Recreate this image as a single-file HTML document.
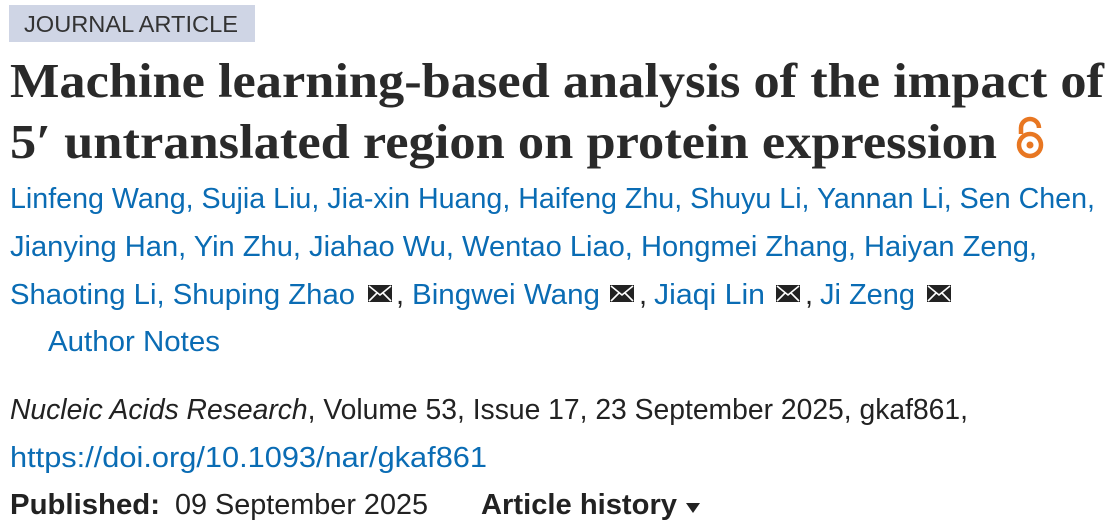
<!DOCTYPE html>
<html><head><meta charset="utf-8"><style>
html,body{margin:0;padding:0;background:#fff;width:1116px;height:520px;overflow:hidden}
svg text{font-family:"Liberation Sans",sans-serif}
.b{fill:#0a6cb4}.d{fill:#222}
</style></head><body>
<svg width="1116" height="520" viewBox="0 0 1116 520" xmlns="http://www.w3.org/2000/svg">
<rect x="9" y="5" width="246" height="37" fill="#cfd5e5"/>
<text x="24" y="32" font-size="23" fill="#333" textLength="214" lengthAdjust="spacingAndGlyphs">JOURNAL ARTICLE</text>
<g font-weight="bold" fill="#2a2a2a">
<text x="10" y="97" font-size="49" textLength="1094" lengthAdjust="spacingAndGlyphs" style="font-family:'Liberation Serif',serif">Machine learning-based analysis of the impact of</text>
<text x="10" y="158" font-size="49" textLength="987" lengthAdjust="spacingAndGlyphs" style="font-family:'Liberation Serif',serif">5′ untranslated region on protein expression</text>
</g>
<g fill="none" stroke="#e87722" stroke-width="4.5">
<circle cx="1030" cy="145" r="11"/>
<path d="M1021 134 V128 a9 9 0 0 1 18 0"/>
</g>
<circle cx="1030" cy="145" r="3.5" fill="#e87722"/>
<g font-size="29">
<text x="10" y="208" class="b" textLength="1085" lengthAdjust="spacingAndGlyphs">Linfeng Wang, Sujia Liu, Jia-xin Huang, Haifeng Zhu, Shuyu Li, Yannan Li, Sen Chen,</text>
<text x="10" y="256" class="b" textLength="1027" lengthAdjust="spacingAndGlyphs">Jianying Han, Yin Zhu, Jiahao Wu, Wentao Liao, Hongmei Zhang, Haiyan Zeng,</text>
<text x="10" y="304" class="b" textLength="345" lengthAdjust="spacingAndGlyphs">Shaoting Li, Shuping Zhao</text>
<text x="396" y="304" class="d">,</text>
<text x="412" y="304" class="b" textLength="188" lengthAdjust="spacingAndGlyphs">Bingwei Wang</text>
<text x="639" y="304" class="d">,</text>
<text x="654" y="304" class="b" textLength="111" lengthAdjust="spacingAndGlyphs">Jiaqi Lin</text>
<text x="805" y="304" class="d">,</text>
<text x="820" y="304" class="b" textLength="95" lengthAdjust="spacingAndGlyphs">Ji Zeng</text>
<text x="48" y="351" class="b" textLength="172" lengthAdjust="spacingAndGlyphs">Author Notes</text>
<text x="10" y="419" class="d" textLength="958" lengthAdjust="spacingAndGlyphs"><tspan font-style="italic">Nucleic Acids Research</tspan>, Volume 53, Issue 17, 23 September 2025, gkaf861,</text>
<text x="10" y="467" class="b" textLength="477" lengthAdjust="spacingAndGlyphs">https://doi.org/10.1093/nar/gkaf861</text>
<text x="10" y="514" class="d" font-weight="bold" textLength="150" lengthAdjust="spacingAndGlyphs">Published:</text>
<text x="175" y="514" class="d" textLength="253" lengthAdjust="spacingAndGlyphs">09 September 2025</text>
<text x="481" y="514" class="d" font-weight="bold" textLength="196" lengthAdjust="spacingAndGlyphs">Article history</text>
</g>
<path d="M686 503 h14 l-7 10 z" fill="#222"/>
<g fill="#222">
<g transform="translate(368,285)"><rect width="24" height="17"/><path d="M1 1 L12 10 L23 1 M1 16 L9 8 M23 16 L15 8" stroke="#fff" stroke-width="1.6" fill="none"/></g>
<g transform="translate(610,285)"><rect width="24" height="17"/><path d="M1 1 L12 10 L23 1 M1 16 L9 8 M23 16 L15 8" stroke="#fff" stroke-width="1.6" fill="none"/></g>
<g transform="translate(776,285)"><rect width="24" height="17"/><path d="M1 1 L12 10 L23 1 M1 16 L9 8 M23 16 L15 8" stroke="#fff" stroke-width="1.6" fill="none"/></g>
<g transform="translate(927,285)"><rect width="24" height="17"/><path d="M1 1 L12 10 L23 1 M1 16 L9 8 M23 16 L15 8" stroke="#fff" stroke-width="1.6" fill="none"/></g>
</g>
</svg>
</body></html>
